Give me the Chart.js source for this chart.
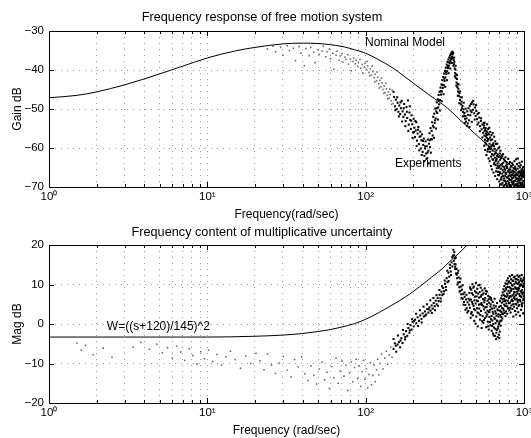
<!DOCTYPE html>
<html>
<head>
<meta charset="utf-8">
<script src="https://cdn.jsdelivr.net/npm/chart.js@4.4.0/dist/chart.umd.min.js"></script>
<style>
  html, body { margin: 0; padding: 0; background: #fff; }
  canvas { display: block; }
</style>
</head>
<body>
<canvas id="top" width="531" height="222"></canvas>
<canvas id="bottom" width="531" height="216"></canvas>
<script>
// x axis: grid at every 1..9 of each decade, labels only at the decades
const freqGrid = [1,2,3,4,5,6,7,8,9,10,20,30,40,50,60,70,80,90,100,200,300,400,500,600,700,800,900,1000];
const decadeLabels = { 1: '10\u2070', 10: '10\u00b9', 100: '10\u00b2', 1000: '10\u00b3' };
const gainTicks = [-70, -60, -50, -40, -30];
const magTicks = [-20, -10, 0, 10, 20];

// top plot - nominal model
const nominalFreq = [1, 1.5, 2, 3, 5, 7, 10, 15, 20, 30, 40, 50, 60, 72, 85, 100, 120, 149, 175, 199, 250, 327, 400, 477, 638, 800, 1000];
const nominalGain = [-47.1, -46.5, -45.6, -43.8, -41.0, -39.0, -36.9, -35.1, -34.2, -33.3, -33.1, -33.2, -33.5, -34.0, -34.8, -35.7, -37.3, -39.5, -41.6, -43.3, -46.3, -49.7, -53.0, -55.9, -60.5, -64.0, -67.7];

// top plot - experiments [freq, gain dB]
const expTop = [
  [24,-34.6],[26,-33.9],[27,-35.3],[29,-34.1],[30,-36.2],[32,-33.8],[33,-35.0],[35,-34.4],[36,-37.6],[38,-34.0],[39,-35.7],[41,-38.9],[42,-34.5],[44,-36.3],[45,-34.2],[47,-35.4],[48,-38.1],[50,-34.8],[51,-36.0],[53,-35.1],[54,-33.9],[56,-36.6],[57,-35.3],[59,-34.6],[60,-37.1],[62,-35.7],[63,-39.8],[65,-36.2],[66,-35.2],[68,-37.5],[69,-36.4],[71,-35.8],[72,-38.0],[74,-36.7],[75,-37.3],[77,-36.1],[78,-38.5],[80,-37.2],[81,-40.2],[83,-37.8],[84,-36.9],[86,-38.4],[87,-37.5],[89,-39.0],[90,-38.1],[92,-37.3],[93,-39.5],[95,-38.6],[96,-40.8],[98,-39.2],[99,-38.3],
  [101,-39.9],[103,-38.9],[105,-40.6],[107,-39.7],[109,-41.3],[111,-40.4],[113,-42.0],[115,-41.1],[117,-42.8],[119,-41.8],[121,-43.5],[123,-42.6],[125,-44.3],[127,-43.3],[129,-45.0],[131,-44.1],[133,-45.8],[135,-44.8],[137,-46.5],[139,-45.6],[141,-47.2],[143,-46.3],[145,-47.9],[147,-45.2],[149,-48.6],[151,-46.9],[153,-49.3],[155,-47.6],[157,-50.0],[159,-48.4],[161,-50.7],[163,-49.1],[165,-51.3],[167,-49.8],[169,-47.9],
  [102,-37.8],[106,-41.5],[110,-39.0],[114,-43.0],[118,-40.5],[122,-44.6],[126,-42.1],[130,-46.0],[134,-43.4],[138,-47.4],[142,-44.9],[146,-48.8],[150,-45.6],[154,-50.3],[158,-47.0],[162,-51.9],[166,-48.3],
  [171,-50.6],[173,-52.0],[175,-48.7],[177,-51.4],[179,-53.1],[181,-49.5],[183,-52.3],[185,-47.8],[187,-54.0],[189,-50.9],[191,-52.8],[193,-55.1],[195,-51.6],[197,-53.9],[199,-56.0],[201,-52.5],[203,-54.8],[205,-57.2],[207,-55.5],[209,-53.4],[211,-58.1],[213,-56.3],[215,-54.6],[217,-59.0],[219,-57.1],[221,-55.8],[223,-60.1],[225,-58.0],[227,-56.5],[229,-61.0],[231,-59.2],[233,-57.6],[235,-62.0],[237,-60.1],[239,-58.3],[241,-61.4],[243,-59.5],[245,-62.6],[247,-57.8],[249,-60.7],[251,-58.9],
  [170,-53.2],[174,-49.8],[178,-54.4],[182,-50.7],[186,-55.6],[190,-49.3],[194,-53.0],[198,-57.4],[202,-55.9],[206,-53.1],[210,-59.5],[214,-55.3],[218,-60.6],[222,-57.0],[226,-61.8],[230,-58.2],[234,-63.4],[238,-59.6],[242,-62.8],[246,-61.2],[250,-63.9],
  [253,-56.2],[255,-59.8],[257,-54.9],[259,-57.7],[261,-55.6],[263,-53.4],[265,-56.8],[267,-52.0],[269,-54.7],[271,-51.2],[273,-53.6],[275,-49.9],[277,-52.4],[279,-50.6],[281,-48.3],[283,-51.0],[285,-47.5],[287,-49.6],[289,-46.4],[291,-48.8],[293,-45.6],[295,-47.7],[297,-44.5],[299,-46.3],[301,-43.7],[303,-45.5],[305,-42.6],[307,-44.6],[309,-41.8],[311,-43.9],[313,-40.9],[315,-42.8],[317,-40.2],[319,-41.9],[321,-39.4],[323,-41.0],[325,-38.6],[327,-40.3],[329,-37.9],[331,-39.5],[333,-37.3],[335,-38.9],[337,-36.8],[339,-38.3],[341,-36.3],[343,-37.7],[345,-35.9],[347,-37.2],[349,-35.5],[351,-36.6],[353,-35.3],[355,-36.9],[357,-35.6],
  [254,-58.0],[258,-61.2],[262,-57.8],[266,-54.3],[270,-57.4],[274,-52.9],[278,-55.0],[282,-49.8],[286,-52.7],[290,-47.8],[294,-50.4],[298,-45.4],[302,-48.0],[306,-43.8],[310,-46.2],[314,-42.2],[318,-44.3],[322,-40.5],[326,-42.6],[330,-39.0],[334,-40.8],[338,-38.0],[342,-39.6],[346,-37.0],[350,-38.2],[354,-36.0],
  [359,-37.4],[361,-38.5],[363,-37.9],[365,-39.6],[367,-40.8],[369,-39.9],[371,-42.0],[373,-41.1],[375,-43.2],[377,-42.3],[379,-44.4],[381,-43.6],[383,-45.5],[385,-44.8],[388,-46.6],[391,-45.9],[394,-47.7],[397,-47.0],[400,-48.8],[403,-48.1],[406,-49.8],[409,-49.2],[412,-50.8],[415,-50.1],[418,-51.7],[421,-51.0],[424,-52.5],[427,-51.8],[430,-53.2],[434,-52.4],[438,-50.6],[442,-53.7],[446,-49.8],[450,-52.9],[454,-49.2],[458,-51.6],[462,-48.7],[466,-50.8],[470,-48.3],[475,-50.2],[480,-48.8],[485,-51.1],[490,-49.6],[495,-51.8],[500,-50.5],[505,-52.6],[510,-51.3],[516,-53.5],[522,-52.2],[528,-54.4],[534,-53.1],[540,-55.2],[546,-54.0],[552,-56.1],[558,-54.8],
  [358,-38.9],[362,-36.8],[366,-41.6],[370,-38.9],[374,-44.0],[378,-41.3],[382,-46.6],[386,-43.7],[390,-48.5],[395,-45.5],[400,-50.3],[405,-47.0],[410,-51.9],[416,-48.4],[422,-53.6],[428,-49.9],[436,-54.3],[444,-51.5],[452,-54.6],[460,-50.4],[468,-53.3],[478,-47.9],[488,-52.7],[498,-49.0],[508,-54.0],[518,-51.0],[526,-55.7],[536,-52.4],[546,-57.3],[556,-53.6],
  [560,-54.2],[562,-56.8],[564,-53.5],[566,-57.9],[568,-55.4],[571,-58.6],[573,-54.9],[575,-56.3],[578,-59.1],[580,-55.7],[582,-57.4],[585,-53.9],[587,-58.2],[589,-56.0],[592,-60.3],[594,-55.1],[597,-57.7],[599,-59.6],[601,-56.5],[604,-54.8],[606,-58.9],[608,-61.0],[611,-57.3],[613,-55.9],[616,-60.1],[618,-58.0],[620,-62.2],[623,-56.7],[625,-59.3],[628,-61.6],[630,-57.8],[633,-60.7],[635,-56.2],[638,-63.0],[640,-58.8],[643,-61.9],[645,-59.5],[648,-57.1],[650,-63.8],[653,-60.2],[655,-62.5],[658,-58.3],[660,-64.4],[663,-61.2],[665,-59.0],[668,-63.1],[670,-60.6],[673,-65.2],[675,-62.0],[678,-58.9],[680,-64.0],[683,-61.7],[685,-66.1],[688,-60.1],[690,-63.5],[693,-62.3],[695,-67.0],[698,-59.8],[700,-64.7],[703,-61.4],[705,-66.5],[708,-63.0],[710,-60.7],[713,-68.1],[716,-62.6],[718,-65.3],[721,-61.9],[723,-67.4],[726,-64.1],[729,-62.2],[731,-69.0],[734,-65.7],[737,-61.6],[739,-63.8],[742,-68.3],[745,-66.2],[747,-62.9],[750,-64.9],[753,-69.5],[756,-63.3],[758,-67.1],[761,-65.6],[764,-62.4],[767,-68.8],[769,-64.5],[772,-66.7],[775,-63.7],[778,-69.7],[781,-65.1],[784,-67.6],[786,-64.2],[789,-68.5],[792,-66.0],[795,-62.8],[798,-69.2],[801,-65.5],[804,-67.9],[807,-64.0],[810,-69.6],[813,-66.4],[816,-63.6],[819,-68.2],[822,-65.0],[825,-67.3],[828,-69.8],[831,-64.6],[834,-66.9],[837,-68.7],[840,-63.9],[843,-67.7],[846,-65.8],[849,-69.4],[852,-64.3],[855,-66.5],[858,-68.9],[861,-65.2],[864,-67.1],[867,-69.9],[870,-63.4],[873,-66.2],[876,-68.4],[879,-64.8],[882,-67.5],[885,-69.3],[888,-65.6],[891,-62.9],[894,-68.0],[897,-66.8],[900,-69.7],[903,-64.1],[906,-67.0],[909,-68.6],[912,-65.3],[915,-62.7],[918,-69.1],[921,-66.3],[924,-64.6],[927,-68.3],[930,-67.4],[933,-69.8],[936,-63.8],[939,-66.0],[942,-68.8],[945,-65.0],[948,-67.9],[951,-69.5],[954,-64.4],[957,-66.7],[960,-68.1],[963,-65.7],[966,-69.3],[969,-63.5],[972,-67.2],[975,-68.9],[978,-65.4],[981,-66.6],[984,-69.6],[987,-64.9],[990,-68.4],[993,-67.0],[996,-69.9],[999,-65.9],
  [561,-59.4],[565,-55.6],[569,-60.5],[574,-57.0],[579,-61.8],[584,-56.6],[588,-60.9],[593,-57.9],[598,-62.7],[603,-59.9],[607,-63.4],[612,-60.3],[617,-64.6],[622,-59.6],[627,-65.5],[632,-62.9],[637,-59.2],[642,-66.3],[647,-64.1],[652,-61.5],[657,-67.2],[662,-63.3],[667,-66.0],[672,-62.7],[677,-68.0],[682,-64.6],[687,-66.9],[692,-65.1],[697,-68.6],[702,-66.2],[707,-69.3],[712,-64.3],[717,-67.8],[722,-69.4],[727,-66.6],[732,-64.7],[738,-67.2],[744,-69.8],[749,-67.8],[755,-65.4],[760,-68.4],[766,-66.3],[771,-69.2],[777,-67.5],[782,-64.9],[788,-69.9],[794,-67.3],[799,-66.1],[805,-68.9],[811,-67.0],[817,-65.6],[823,-69.5],[829,-66.2],[835,-68.1],[841,-66.9],[847,-69.0],[853,-67.6],[859,-66.0],[865,-68.5],[871,-69.4],[877,-67.0],[883,-65.3],[889,-69.6],[895,-66.5],[901,-67.8],[907,-69.2],[913,-66.9],[919,-67.9],[925,-69.7],[931,-66.1],[937,-68.3],[943,-67.1],[949,-69.0],[955,-66.3],[961,-69.8],[967,-67.7],[973,-66.0],[979,-69.2],[985,-67.3],[991,-66.4],[997,-68.6]
];

// bottom plot - weight W
const wFreq = [1, 3, 10, 20, 30, 40, 50, 60, 70, 85, 100, 120, 140, 165, 190, 220, 260, 300, 341, 390, 437];
const wMag = [-3.3, -3.3, -3.3, -3.1, -2.8, -2.4, -1.9, -1.4, -0.8, 0.1, 1.2, 2.8, 4.3, 6.0, 7.6, 9.5, 11.8, 13.8, 15.9, 18.0, 20.0];

// bottom plot - experiments [freq, mag dB]
const expBot = [
  [1.5,-4.8],[1.6,-6.6],[1.7,-5.4],[1.9,-7.8],[2.2,-6.1],[2.5,-8.4],[3.4,-5.9],[3.8,-4.7],[4.3,-6.4],[4.8,-5.1],[5.2,-7.3],[5.6,-6.0],[6.0,-8.6],[6.4,-5.6],[6.8,-7.1],[7.2,-9.2],[7.7,-6.3],[8.1,-8.0],[8.6,-10.1],[9.1,-7.0],[9.6,-8.8],[10.2,-6.6],[10.8,-9.5],[11.5,-7.7],[12.3,-10.4],[13.1,-8.3],[14.0,-6.9],[15.0,-9.0],[16.2,-11.2],[17.5,-8.1],[18.8,-10.0],[20.3,-7.4],
  [21.5,-9.3],[22.8,-11.6],[24.0,-7.6],[25.4,-10.4],[26.9,-12.5],[28.5,-9.9],[30.2,-8.2],[32.0,-11.7],[33.8,-13.4],[35.6,-9.0],[37.5,-10.9],[39.4,-8.4],[41.3,-12.6],[43.2,-14.3],[45.1,-10.6],[47.0,-13.0],[49.0,-15.2],[51.0,-11.4],[53.0,-9.7],[55.0,-14.1],[57.0,-12.2],[59.0,-16.3],[61.0,-10.8],[63.0,-13.6],[65.0,-8.6],[67.0,-15.0],[69.0,-11.9],[71.0,-9.4],[73.0,-13.2],[75.0,-10.4],[77.0,-16.8],[79.0,-12.4],[81.0,-9.6],[83.0,-14.6],[85.0,-11.0],[87.0,-8.9],[89.0,-13.8],[91.0,-10.6],[93.0,-15.8],[95.0,-12.1],[97.0,-9.2],[99.0,-14.0],[101,-11.3],[103,-16.2],[105,-12.8],[107,-9.8],[109,-15.4],[111,-13.0],[113,-10.4],[115,-14.6],[117,-11.6],[119,-8.9],[121,-12.9],[123,-10.0],[126,-7.6],[129,-11.4],[132,-8.6],[135,-6.9],[138,-10.2],[141,-7.8],[144,-5.9],[147,-8.4],[150,-6.3],[153,-4.9],[156,-7.0],[159,-5.2],
  [162,-4.6],[165,-5.9],[168,-3.6],[171,-4.8],[174,-2.6],[177,-3.9],[180,-1.8],[183,-3.0],[186,-1.0],[189,-2.2],[192,-0.3],[195,-1.4],[198,0.5],[201,-0.6],[205,1.1],[209,0.2],[213,1.7],[217,0.8],[221,2.2],[225,1.3],[229,2.7],[233,1.9],[237,3.2],[241,2.4],[245,3.8],[249,2.9],[253,4.2],[257,3.4],[261,4.7],[265,3.9],[269,5.3],[273,4.5],[277,5.9],[281,5.0],[285,6.6],[289,5.8],[293,7.4],[297,6.5],[301,8.2],[305,7.3],[309,9.1],[313,8.3],[317,10.2],[321,9.4],[325,11.6],[329,10.6],[333,13.0],[337,12.0],[341,14.2],[345,13.3],[349,15.6],[353,14.6],[356,17.3],[358,18.8],[360,16.0],
  [150,-3.8],[155,-5.5],[160,-2.9],[166,-4.2],[172,-1.5],[178,-3.3],[184,0.0],[190,-1.6],[196,1.2],[202,0.8],[208,2.6],[214,-0.5],[220,3.5],[226,0.4],[232,4.4],[238,2.1],[244,5.0],[250,3.7],[256,6.0],[262,2.8],[268,6.6],[274,3.5],[280,7.3],[286,4.6],[292,8.6],[298,5.7],[304,9.6],[310,7.6],[316,11.0],[322,8.6],[328,13.5],[334,10.9],[340,15.0],[346,12.4],[352,16.9],
  [362,17.4],[364,15.2],[366,16.6],[368,13.9],[370,15.1],[372,12.8],[375,14.0],[378,11.6],[381,12.9],[384,10.5],[387,11.8],[390,9.3],[393,10.6],[396,8.4],[399,9.5],[402,7.5],[406,8.7],[410,6.4],[414,7.6],[418,5.6],[422,6.9],[426,4.8],[430,6.2],[435,4.0],[440,5.5],[445,3.3],[450,4.9],
  [363,18.2],[367,14.5],[371,16.8],[376,12.5],[380,10.0],[385,13.5],[391,8.2],[397,11.5],[403,6.6],[409,9.8],[415,4.9],[421,8.0],[427,3.6],[433,7.4],[439,2.9],[446,6.4],
  [452,7.9],[455,4.1],[457,9.3],[460,1.6],[462,6.2],[465,8.7],[467,3.0],[470,5.6],[472,10.1],[475,2.2],[477,7.4],[480,4.6],[482,9.5],[485,0.8],[487,6.0],[490,8.3],[492,3.5],[495,5.2],[497,10.4],[500,1.9],[502,7.0],[505,4.0],[507,8.9],[510,-0.6],[512,5.8],[515,9.8],[517,2.7],[520,6.7],[522,3.9],[525,8.1],[527,1.1],[530,5.0],[533,9.2],[535,3.3],[538,7.3],[540,-1.0],[543,4.8],[545,8.5],[548,2.0],[551,6.3],[553,0.3],[556,7.8],[559,3.7],[561,5.5],[564,9.0],[567,1.5],[569,6.6],[572,2.9],[575,7.6],[577,-0.8],[580,4.3],[583,8.2],[586,2.4],[588,5.9],[591,0.6],[594,7.1],[597,3.1],[599,-1.4],[602,5.4],[605,1.8],[608,6.8],[611,3.6],[613,-0.3],[616,5.0],[619,1.2],[622,6.1],[625,-1.7],[628,3.9],[631,0.9],[634,5.6],[637,-2.4],[640,2.6],[643,4.7],[646,-0.9],[649,1.6],[652,6.4],[655,-3.0],[658,3.2],[661,0.2],[664,4.5],[667,-3.8],[670,2.1],[673,-1.5],[676,5.3],[679,0.7],[682,-3.3],[685,3.5],[688,-0.6],[691,1.9],[694,-2.7],[697,4.3],[700,0.4],[703,-1.9],[706,5.8],[709,2.3],[712,-0.4],[715,6.5],[718,3.1],[721,0.9],[724,7.2],[727,4.0],[730,1.4],[733,8.0],[736,2.5],[739,5.7],[742,8.8],[745,3.4],[748,6.4],[751,9.6],[754,2.8],[757,7.1],[760,4.6],[763,10.3],[766,6.0],[769,3.2],[772,8.7],[775,5.2],[778,11.0],[781,7.7],[784,2.6],[787,9.4],[790,5.9],[793,11.6],[796,4.1],[799,8.4],[802,6.6],[805,10.8],[808,3.5],[811,7.9],[814,12.1],[817,5.4],[820,9.1],[823,2.9],[826,7.0],[829,11.3],[832,4.7],[835,8.8],[838,6.2],[841,12.4],[844,3.8],[847,9.7],[850,5.8],[853,10.9],[856,1.9],[859,7.5],[862,11.8],[865,4.4],[868,8.1],[871,6.9],[874,12.0],[877,3.3],[880,9.3],[883,5.1],[886,10.6],[889,7.3],[892,2.4],[895,11.4],[898,6.4],[901,8.9],[904,4.0],[907,12.3],[910,7.7],[913,5.5],[916,10.2],[919,3.0],[922,8.5],[925,11.9],[928,6.1],[931,9.0],[934,4.8],[937,12.2],[940,7.1],[943,2.1],[946,10.0],[949,5.7],[952,8.3],[955,11.5],[958,3.6],[961,9.8],[964,6.8],[967,12.4],[970,4.5],[973,8.6],[976,10.7],[979,5.3],[982,7.9],[985,11.1],[988,2.7],[991,9.5],[994,6.3],[997,11.7],[1000,8.0],
  [454,6.0],[459,8.9],[464,2.6],[469,7.8],[474,5.1],[479,9.2],[484,3.8],[489,6.9],[494,0.1],[499,8.0],[504,5.9],[509,2.9],[514,7.7],[519,4.9],[524,9.9],[529,2.3],[534,6.9],[539,5.3],[544,0.7],[549,7.5],[554,4.5],[559,1.0],[564,6.0],[569,4.2],[574,8.4],[579,1.9],[584,5.0],[589,3.4],[594,-0.6],[599,6.3],[604,3.0],[609,0.5],[614,4.4],[619,6.6],[624,2.0],[629,-0.5],[634,3.1],[639,0.0],[644,-2.9],[649,4.0],[654,1.3],[659,-1.2],[664,2.7],[669,-2.2],[674,0.9],[679,3.7],[684,-1.1],[689,2.5],[694,0.0],[699,-3.6],[704,3.4],[709,0.8],[714,4.6],[719,1.8],[724,5.4],[729,2.7],[734,6.3],[739,3.9],[744,7.4],[749,4.9],[754,8.3],[759,5.8],[764,2.0],[769,9.1],[774,6.9],[779,4.5],[784,10.1],[789,7.2],[794,3.9],[799,10.5],[804,5.3],[809,9.4],[814,7.0],[819,4.1],[824,10.4],[829,8.4],[834,5.9],[839,9.9],[844,7.2],[849,11.0],[854,5.0],[859,8.9],[864,6.6],[869,10.1],[874,8.0],[879,6.2],[884,11.3],[889,9.0],[894,5.0],[899,10.3],[904,8.2],[909,6.0],[914,11.2],[919,9.1],[924,4.6],[929,10.6],[934,7.6],[939,9.6],[944,6.1],[949,11.0],[954,7.0],[959,10.0],[964,8.0],[969,5.0],[974,10.9],[979,7.5],[984,9.4],[989,6.0],[994,10.2],[999,7.0]
];

const FONT = "'Liberation Sans', Arial, Helvetica, sans-serif";

// box round the plot + matlab style inward ticks + text labels
const framePlugin = {
  id: 'frame',
  afterDraw(chart, args, opts) {
    const { ctx, chartArea: a, scales } = chart;
    ctx.save();
    ctx.strokeStyle = '#000';
    ctx.lineWidth = 1;
    ctx.strokeRect(Math.round(a.left) + 0.5, Math.round(a.top) + 0.5, Math.round(a.right - a.left), Math.round(a.bottom - a.top));
    ctx.beginPath();
    scales.x.ticks.forEach(t => {
      const px = Math.round(scales.x.getPixelForValue(t.value)) + 0.5;
      const len = decadeLabels[t.value] ? 5 : 3;
      ctx.moveTo(px, a.bottom); ctx.lineTo(px, a.bottom - len);
      ctx.moveTo(px, a.top); ctx.lineTo(px, a.top + len);
    });
    scales.y.ticks.forEach(t => {
      const py = Math.round(scales.y.getPixelForValue(t.value)) + 0.5;
      ctx.moveTo(a.left, py); ctx.lineTo(a.left + 5, py);
      ctx.moveTo(a.right, py); ctx.lineTo(a.right - 5, py);
    });
    ctx.stroke();
    ctx.fillStyle = '#000';
    ctx.font = '12px ' + FONT;
    ctx.textBaseline = 'middle';
    ctx.textAlign = 'left';
    (opts.notes || []).forEach(n => {
      ctx.fillText(n.text, scales.x.getPixelForValue(n.x), scales.y.getPixelForValue(n.y));
    });
    ctx.restore();
  }
};

// sparse low-frequency dots print fainter in the original
const faint = ctx => (ctx.raw && ctx.raw.x < 150);

function makeChart(id, cfg) {
  return new Chart(document.getElementById(id), {
    type: 'scatter',
    data: {
      datasets: [
        {
          data: cfg.lineX.map((x, i) => ({ x: x, y: cfg.lineY[i] })),
          showLine: true, borderColor: '#000', borderWidth: 1,
          pointRadius: 0, cubicInterpolationMode: 'monotone'
        },
        {
          data: cfg.points.map(p => ({ x: p[0], y: p[1] })),
          pointStyle: 'rect', borderWidth: 0,
          pointRadius: ctx => faint(ctx) ? 1.1 : 1.45,
          backgroundColor: ctx => faint(ctx) ? '#666' : '#000'
        }
      ]
    },
    options: {
      responsive: false,
      animation: false,
      devicePixelRatio: 1,
      layout: { padding: { left: 0, right: 7, top: 0, bottom: 0 } },
      plugins: {
        legend: { display: false },
        tooltip: { enabled: false },
        title: {
          display: true, text: cfg.title, color: '#000',
          font: { family: FONT, size: 12.7, weight: 'normal' },
          padding: cfg.titlePad
        },
        frame: { notes: cfg.notes }
      },
      scales: {
        x: {
          type: 'logarithmic', min: 1, max: 1000,
          afterBuildTicks: s => { s.ticks = freqGrid.map(v => ({ value: v })); },
          afterFit: s => { s.height = 35; s.paddingLeft = 0; s.paddingRight = 0; },
          ticks: {
            autoSkip: false, maxRotation: 0, padding: 3, color: '#000',
            font: { family: FONT, size: 11.5 },
            callback: v => decadeLabels[v] || ''
          },
          grid: { color: '#999', drawTicks: false },
          border: { display: false, dash: [1, 5] },
          title: {
            display: true, text: cfg.xTitle, color: '#000',
            font: { family: FONT, size: 12 }, padding: { top: 0, bottom: 0 }
          }
        },
        y: {
          min: cfg.yTicks[0], max: cfg.yTicks[cfg.yTicks.length - 1],
          afterBuildTicks: s => { s.ticks = cfg.yTicks.map(v => ({ value: v })); },
          afterFit: s => { s.width = 49; s.paddingTop = 0; s.paddingBottom = 0; },
          ticks: {
            padding: 5, color: '#000',
            font: { family: FONT, size: 11.5 },
            callback: v => String(v).replace('-', '\u2212')
          },
          grid: { color: '#999', drawTicks: false },
          border: { display: false, dash: [1, 5] },
          title: {
            display: true, text: cfg.yTitle, color: '#000',
            font: { family: FONT, size: 12 }, padding: { top: 10, bottom: 0 }
          }
        }
      }
    },
    plugins: [framePlugin]
  });
}

makeChart('top', {
  title: 'Frequency response of free motion system',
  titlePad: { top: 9.4, bottom: 6.4 },
  xTitle: 'Frequency(rad/sec)',
  yTitle: 'Gain dB',
  yTicks: gainTicks,
  lineX: nominalFreq, lineY: nominalGain,
  points: expTop,
  notes: [
    { text: 'Nominal Model', x: 99, y: -33.1 },
    { text: 'Experiments', x: 153, y: -64.1 }
  ]
});

makeChart('bottom', {
  title: 'Frequency content of multiplicative uncertainty',
  titlePad: { top: 2.4, bottom: 5.4 },
  xTitle: 'Frequency (rad/sec)',
  yTitle: 'Mag dB',
  yTicks: magTicks,
  lineX: wFreq, lineY: wMag,
  points: expBot,
  notes: [
    { text: 'W=((s+120)/145)^2', x: 2.32, y: -0.75 }
  ]
});
</script>
</body>
</html>
